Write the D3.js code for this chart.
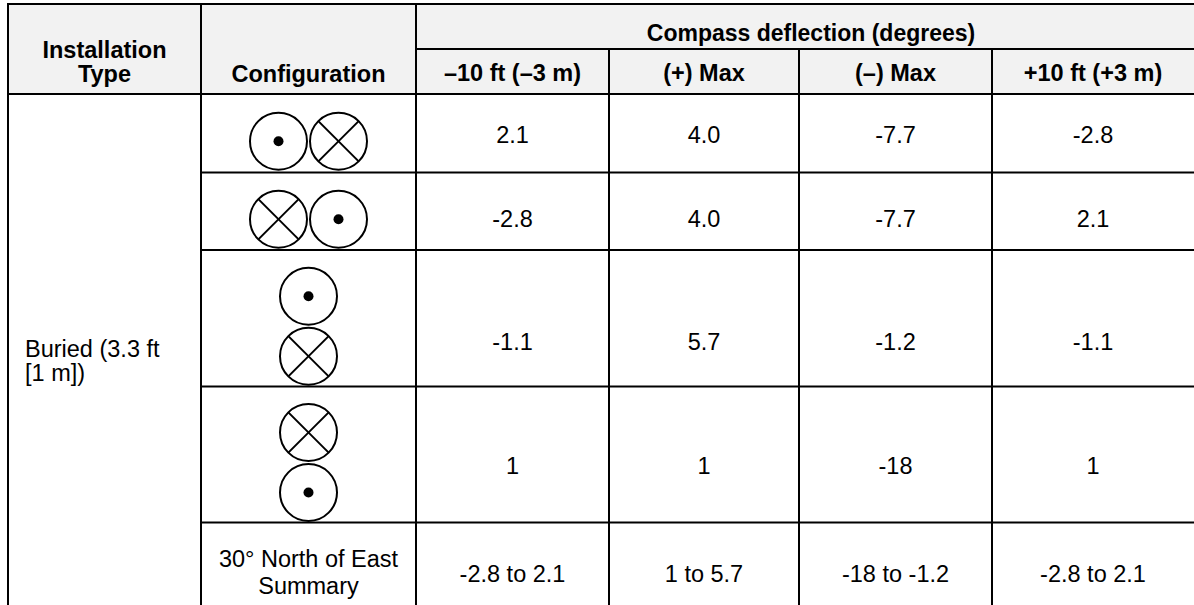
<!DOCTYPE html>
<html>
<head>
<meta charset="utf-8">
<script src="https://cdn.jsdelivr.net/npm/d3@7"></script>
<style>
  html, body { margin: 0; padding: 0; background: #fff; }
  svg { display: block; }
  text { font-family: "Liberation Sans", Arial, sans-serif; fill: #000; }
</style>
</head>
<body>
<svg id="chart" width="1194" height="605"></svg>
<script>
// ---- data ----
const installationType = ["Buried (3.3 ft", "[1 m])"];
const headerInstallation = ["Installation", "Type"];
const headerConfiguration = "Configuration";
const groupHeader = "Compass deflection (degrees)";
const columns = ["–10 ft (–3 m)", "(+) Max", "(–) Max", "+10 ft (+3 m)"];
// configuration symbols: orientation + symbol order (dot = current out, cross = current in)
const configOrientation = ["h", "h", "v", "v"];
const configSymbols = [["dot", "cross"], ["cross", "dot"], ["dot", "cross"], ["cross", "dot"]];
const summaryLabel = ["30° North of East", "Summary"];
const minus10ft = ["2.1", "-2.8", "-1.1", "1", "-2.8 to 2.1"];
const plusMax = ["4.0", "4.0", "5.7", "1", "1 to 5.7"];
const minusMax = ["-7.7", "-7.7", "-1.2", "-18", "-18 to -1.2"];
const plus10ft = ["-2.8", "2.1", "-1.1", "1", "-2.8 to 2.1"];
const valueSeries = [minus10ft, plusMax, minusMax, plus10ft];

// ---- layout ----
const svg = d3.select("#chart");
const W = 1194;
const colEdges = [8, 201, 416, 609, 799, 992, W];
const rowEdges = [94, 172.5, 250, 386.5, 522.5, 625];
const topY = 4, subY = 49;
const fontSize = 23.5;
const rowIdx = d3.range(rowEdges.length - 1);
const valueX = d3.scaleOrdinal().domain(d3.range(4)).range(d3.range(4).map(i => (colEdges[i + 2] + colEdges[i + 3]) / 2));
const symbolCenter = d3.scaleOrdinal().domain(rowIdx).range(rowIdx.map(i => (rowEdges[i] + 14 + rowEdges[i + 1]) / 2 + 1));
const textBaseline = d3.scaleOrdinal().domain(rowIdx).range([143, 227, 350, 474, 582]);

// header background
svg.append("rect").attr("x", colEdges[0]).attr("y", topY).attr("width", W - colEdges[0]).attr("height", rowEdges[0] - topY).attr("fill", "#f2f2f2");

// grid lines
const g = svg.append("g").attr("stroke", "#000").attr("stroke-width", 2);
g.append("line").attr("x1", colEdges[0] - 1).attr("x2", W).attr("y1", topY).attr("y2", topY);
g.append("line").attr("x1", colEdges[2]).attr("x2", W).attr("y1", subY).attr("y2", subY);
g.append("line").attr("x1", colEdges[0]).attr("x2", W).attr("y1", rowEdges[0]).attr("y2", rowEdges[0]);
rowEdges.slice(1, -1).forEach(y => g.append("line").attr("x1", colEdges[1]).attr("x2", W).attr("y1", y).attr("y2", y));
g.append("line").attr("x1", colEdges[0]).attr("x2", colEdges[0]).attr("y1", topY).attr("y2", 605);
g.append("line").attr("x1", colEdges[1]).attr("x2", colEdges[1]).attr("y1", topY).attr("y2", 605);
g.append("line").attr("x1", colEdges[2]).attr("x2", colEdges[2]).attr("y1", topY).attr("y2", 605);
[3, 4, 5].forEach(i => g.append("line").attr("x1", colEdges[i]).attr("x2", colEdges[i]).attr("y1", subY).attr("y2", 605));

// header text
const bold = sel => sel.attr("font-weight", "bold").attr("font-size", fontSize).attr("text-anchor", "middle");
headerInstallation.forEach((t, i) => svg.append("text").call(bold).attr("x", (colEdges[0] + colEdges[1]) / 2).attr("y", 58 + i * 24).text(t));
svg.append("text").call(bold).attr("x", (colEdges[1] + colEdges[2]) / 2).attr("y", 82).text(headerConfiguration);
svg.append("text").call(bold).attr("font-size", 23).attr("x", 811).attr("y", 41).text(groupHeader);
svg.selectAll("text.sub").data(columns).join("text").attr("class", "sub").call(bold)
  .attr("x", (d, i) => valueX(i)).attr("y", 81).text(d => d);

// installation type
installationType.forEach((t, i) => svg.append("text").attr("font-size", fontSize).attr("x", 25).attr("y", 357 + i * 24).text(t));

// configuration symbols
const cfgX = (colEdges[1] + colEdges[2]) / 2;
const R = 28.5, gap = 30;
configSymbols.forEach((syms, r) => {
  const cy = symbolCenter(r);
  syms.forEach((s, k) => {
    const off = (k === 0 ? -gap : gap);
    const x = configOrientation[r] === "h" ? cfgX + off : cfgX;
    const y = configOrientation[r] === "v" ? cy + off : cy;
    const sg = svg.append("g").attr("transform", `translate(${x},${y})`);
    sg.append("circle").attr("r", R).attr("fill", "none").attr("stroke", "#000").attr("stroke-width", 2);
    if (s === "dot") {
      sg.append("circle").attr("r", 5).attr("fill", "#000");
    } else {
      const c = R * Math.SQRT1_2;
      sg.append("line").attr("x1", -c).attr("y1", -c).attr("x2", c).attr("y2", c).attr("stroke", "#000").attr("stroke-width", 2);
      sg.append("line").attr("x1", -c).attr("y1", c).attr("x2", c).attr("y2", -c).attr("stroke", "#000").attr("stroke-width", 2);
    }
  });
});
summaryLabel.forEach((t, i) => svg.append("text").attr("font-size", fontSize).attr("text-anchor", "middle")
  .attr("x", cfgX).attr("y", 567 + i * 27).text(t));

// values
valueSeries.forEach((series, c) => {
  svg.selectAll(null).data(series).join("text")
    .attr("font-size", fontSize).attr("text-anchor", "middle")
    .attr("x", valueX(c)).attr("y", (d, r) => textBaseline(r)).text(d => d);
});
</script>
</body>
</html>
